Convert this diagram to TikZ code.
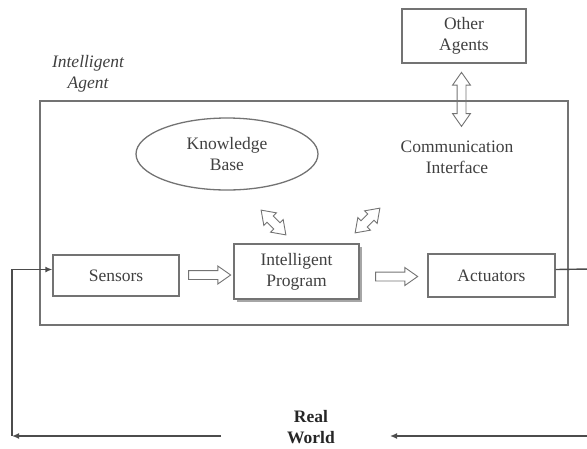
\documentclass[tikz,border=0pt]{standalone}
\usepackage{fontspec}
\setmainfont{Liberation Serif}
\usetikzlibrary{calc,arrows.meta,shapes.geometric,shapes.arrows,shadows}

\tikzset{
  txt/.style={font=\fontsize{17.5}{21}\selectfont, text=black!75, align=center},
  box/.style={txt, draw=black!55, line width=1.3pt, inner sep=0pt},
  hollow/.style={single arrow, draw=black!55, line width=0.9pt, inner xsep=0pt, inner ysep=4pt,
    single arrow head extend=4.5pt, single arrow tip angle=70},
  hollowtwo/.style={double arrow, draw=black!55, line width=0.9pt, inner xsep=0pt, inner ysep=4pt,
    double arrow head extend=4.5pt, double arrow tip angle=70},
  feed/.style={draw=black!70, line width=1.4pt},
  tip/.tip={Latex[length=7pt,width=6pt]}
}

\begin{document}
\begin{tikzpicture}[x=1pt,y=-1pt]
  \useasboundingbox (0,0) rectangle (587,448);

  % agent frame
  \draw[draw=black!55,line width=1.3pt] (40,101) rectangle (568,325);
  \node[txt,font=\fontsize{17.5}{21}\selectfont\itshape] (agentlbl) at (88,74) {Intelligent\\Agent};

  \node[box,minimum width=124pt,minimum height=54pt] (others) at (464,36) {Other\\Agents};
  \node[box,ellipse,minimum width=182pt,minimum height=72pt] (kb) at (227,154) {Knowledge\\Base};
  \node[txt] (comm) at (457,157) {Communication\\Interface};

  \node[box,minimum width=126pt,minimum height=41pt] (sensors) at (116,275.5) {Sensors};
  \node[box,minimum width=125pt,minimum height=55pt,fill=white,
        drop shadow={shadow xshift=3pt,shadow yshift=-3pt,fill=black!35,opacity=1}] (prog) at (296.5,271.5) {Intelligent\\Program};
  \node[box,minimum width=127pt,minimum height=43pt] (actuators) at (491.5,275.5) {Actuators};

  % hollow arrows
  \node[hollow,minimum height=42pt] (s2p) at ($(sensors.east)!0.5!(prog.west)+(0,1.5)$) {};
  \node[hollow,minimum height=42pt] (p2a) at ($(prog.east)!0.5!(actuators.west)+(0,3)$) {};
  \node[hollowtwo,minimum height=35pt,rotate=-45] (kb2p) at (273.5,222.5) {};
  \node[hollowtwo,minimum height=35pt,rotate=45] (ci2p) at (367.5,220.5) {};
  \node[hollowtwo,minimum height=54pt,rotate=90] (oa2ci) at ($(others.south)!0.5!(comm.north)+(1,-1)$) {};

  % real world loop
  \node[txt,font=\fontsize{17.5}{21}\selectfont\bfseries,text=black!85] (world) at (311,427) {Real\\World};
  \coordinate (edgeR) at (590,269);
  \coordinate (floorR) at (590,436);
  \coordinate (floorL) at (12,436);
  \coordinate (worldR) at (390,436);
  \coordinate (worldL) at (221,436);

  \draw[feed] ([yshift=6pt]actuators.east) -- (edgeR);
  \draw[feed,-tip] (floorR) -- (worldR);
  \draw[feed,-tip] (worldL) -- (floorL);
  \draw[feed,-tip] (floorL) |- ([yshift=6pt]sensors.west);
\end{tikzpicture}
\end{document}
